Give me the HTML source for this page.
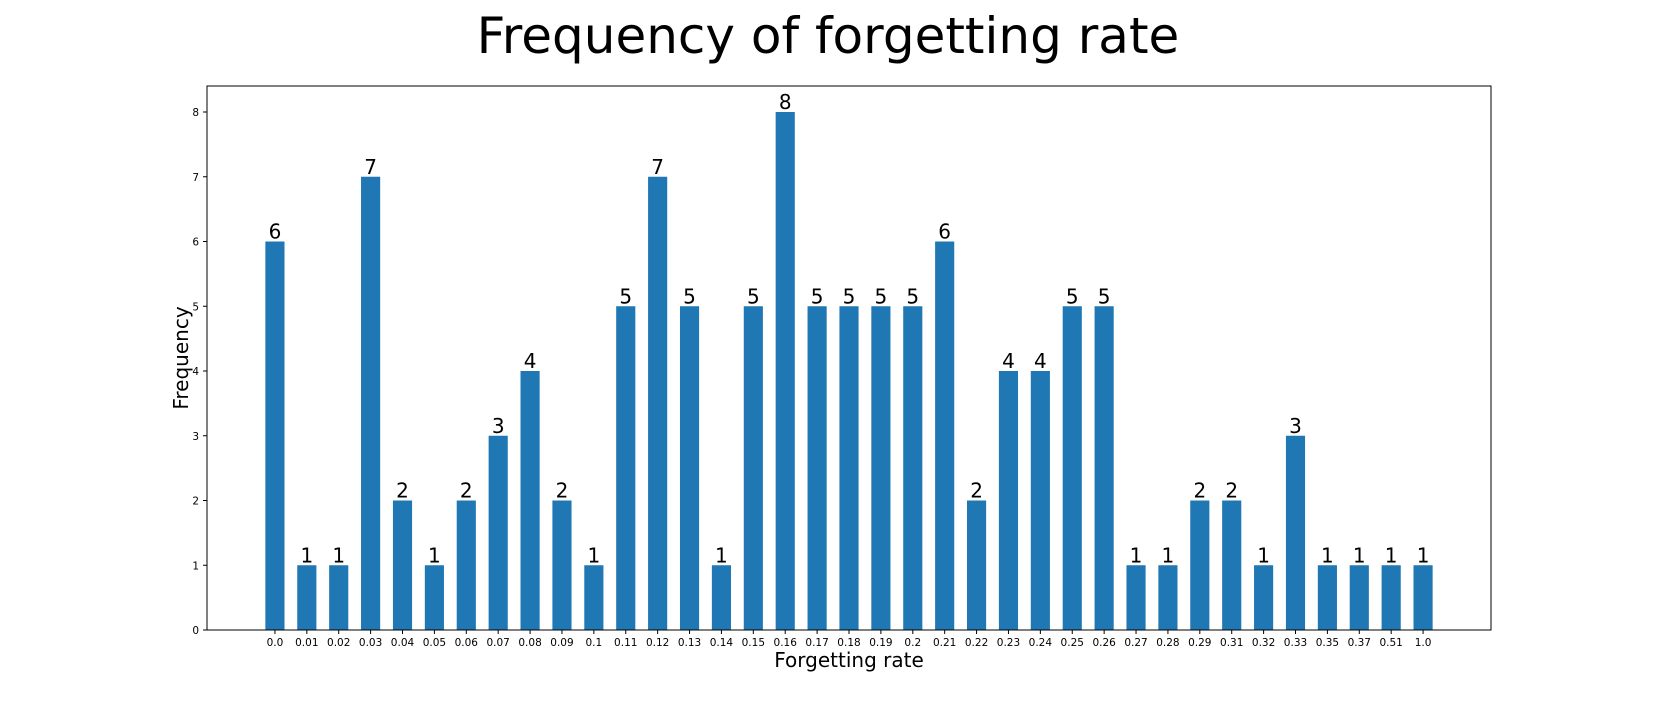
<!DOCTYPE html>
<html><head><meta charset="utf-8"><style>
html,body{margin:0;padding:0;background:#fff;}
svg{display:block;font-family:"DejaVu Sans","Liberation Sans",sans-serif;}
</style></head><body>
<svg id="chart" width="1656" height="720">
<text x="828" y="53" font-size="50" text-anchor="middle">Frequency of forgetting rate</text>
<g id="plot"></g>
<text x="849" y="667" font-size="20" text-anchor="middle">Forgetting rate</text>
<text transform="translate(188,358) rotate(-90)" font-size="20" text-anchor="middle">Frequency</text>
</svg>
<script>
const categories=["0.0","0.01","0.02","0.03","0.04","0.05","0.06","0.07","0.08","0.09","0.1","0.11","0.12","0.13","0.14","0.15","0.16","0.17","0.18","0.19","0.2","0.21","0.22","0.23","0.24","0.25","0.26","0.27","0.28","0.29","0.31","0.32","0.33","0.35","0.37","0.51","1.0"];
const values=[6,1,1,7,2,1,2,3,4,2,1,5,7,5,1,5,8,5,5,5,5,6,2,4,4,5,5,1,1,2,2,1,3,1,1,1,1];
const yTicks=[0,1,2,3,4,5,6,7,8];
const NS="http://www.w3.org/2000/svg";
const L=207,R=1491,T=86,B=630;
const n=categories.length;
const pad=2.13;
const xs=i=>L+(i+pad)*(R-L)/(n-1+2*pad);
const bw=0.6*(R-L)/(n-1+2*pad);
const ymax=8*(B-T)/(B-112);
const ys=v=>B-v*(B-T)/ymax;
const g=document.getElementById('plot');
function mk(t,a){const e=document.createElementNS(NS,t);for(const k in a)e.setAttribute(k,a[k]);g.appendChild(e);return e;}
values.forEach((v,i)=>{
 const r=mk('rect',{x:xs(i)-bw/2,y:ys(v),width:bw,height:B-ys(v),fill:'#1f77b4'});
 
 
 const t=mk('text',{x:xs(i),y:ys(v)-3,'font-size':20,'text-anchor':'middle'});
 t.textContent=v;
 
 
 const tk=mk('line',{x1:xs(i),x2:xs(i),y1:B,y2:B+4,stroke:'#000'});
 
 
 const tl=mk('text',{x:xs(i),y:B+16,'font-size':10.5,'text-anchor':'middle'});
 tl.textContent=categories[i];
 
 
});
yTicks.forEach(v=>{
 const tk=mk('line',{x1:L-4,x2:L,y1:ys(v),y2:ys(v),stroke:'#000'});
 
 
 const tl=mk('text',{x:L-8,y:ys(v)+4,'font-size':10.5,'text-anchor':'end'});
 tl.textContent=v;
 
 
});
const fr=mk('rect',{x:L,y:T,width:R-L,height:B-T,fill:'none',stroke:'#000','stroke-width':1});


</script>
</body></html>
